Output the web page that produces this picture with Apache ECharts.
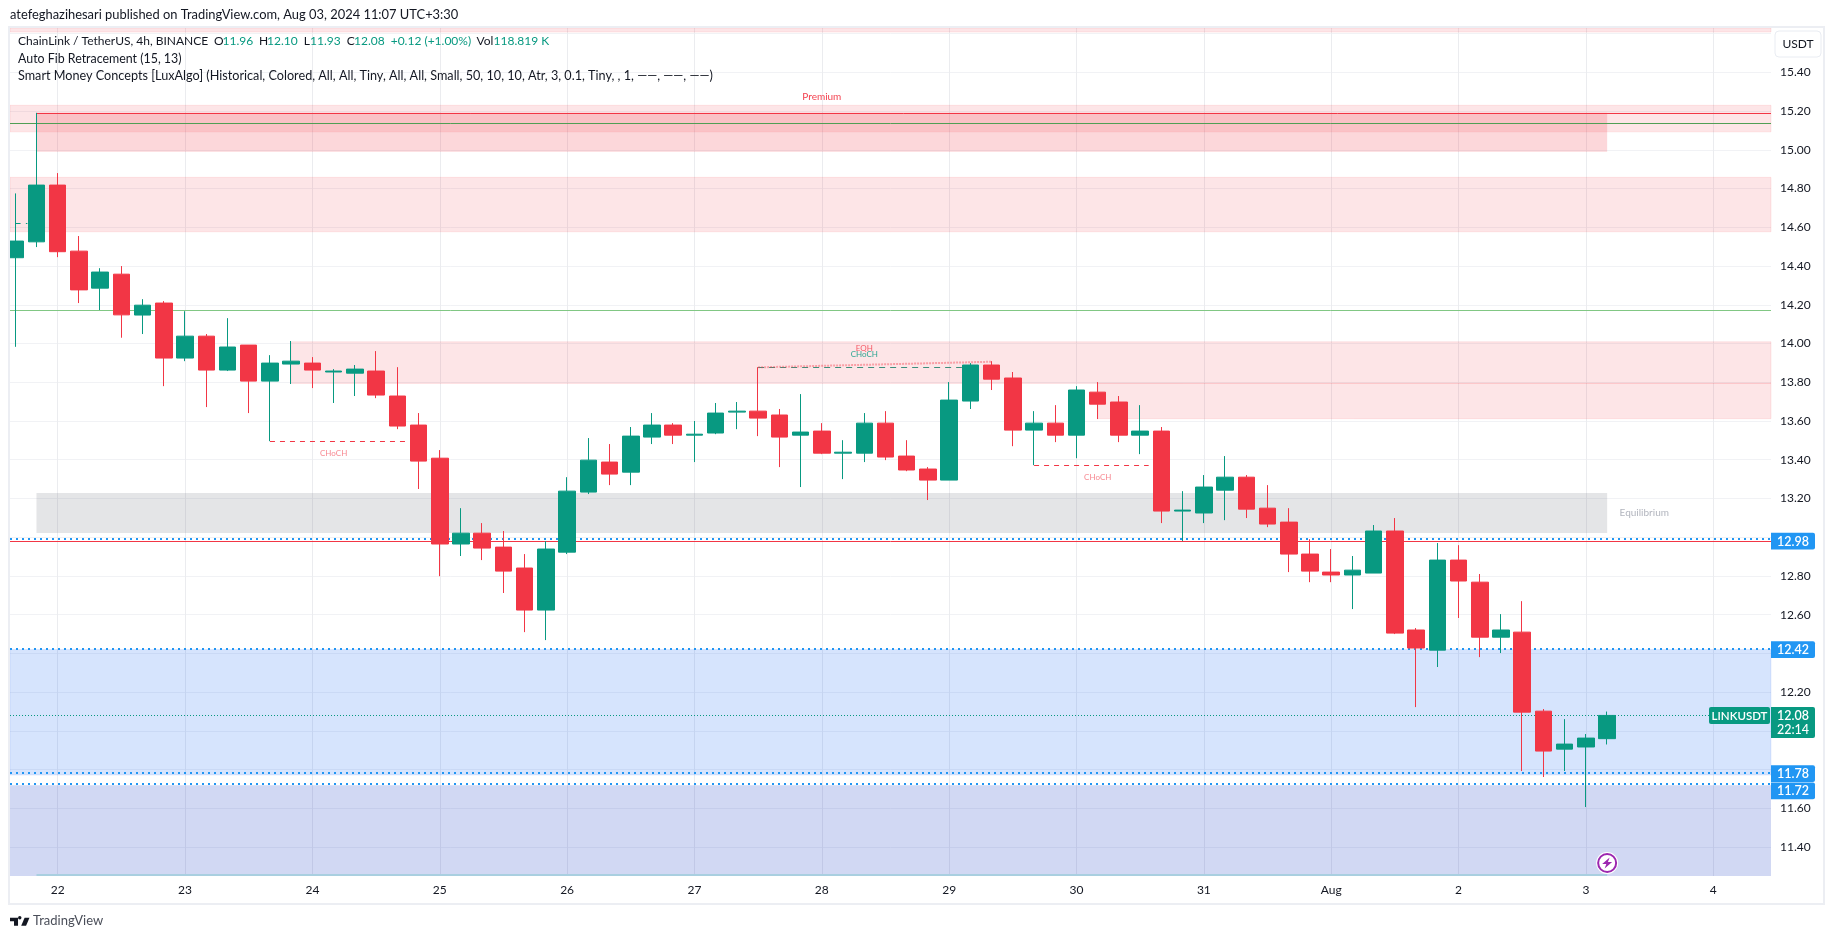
<!DOCTYPE html>
<html>
<head>
<meta charset="utf-8">
<title>LINKUSDT 4h</title>
<style>
    html, body { margin:0; padding:0; background:#fff; height:100%; overflow:hidden; }
    #chart { width:1835px; height:939px; }
</style>
<script src="https://cdn.jsdelivr.net/npm/echarts@6/dist/echarts.min.js"></script>
</head>
<body>
<div id="chart"></div>
<script>
const opens = [14.443,14.525,14.818,14.477,14.286,14.358,14.147,14.209,13.925,14.038,13.863,13.992,13.806,13.894,13.899,13.853,13.847,13.858,13.729,13.579,13.408,12.965,13.021,12.949,12.841,12.624,12.923,13.233,13.388,13.336,13.517,13.579,13.527,13.538,13.646,13.651,13.631,13.527,13.548,13.434,13.434,13.589,13.419,13.352,13.295,13.703,13.889,13.822,13.553,13.589,13.527,13.749,13.698,13.527,13.548,13.135,13.125,13.243,13.310,13.150,13.078,12.913,12.820,12.805,12.815,13.032,12.521,12.417,12.882,12.768,12.484,12.510,12.102,11.906,11.917,11.96]
const closes = [14.529,14.818,14.474,14.277,14.369,14.148,14.198,13.925,14.038,13.863,13.982,13.806,13.899,13.909,13.863,13.858,13.868,13.734,13.574,13.393,12.965,13.021,12.944,12.825,12.624,12.939,13.238,13.398,13.326,13.522,13.579,13.527,13.532,13.641,13.651,13.615,13.517,13.543,13.434,13.439,13.589,13.414,13.347,13.295,13.708,13.889,13.816,13.553,13.589,13.527,13.760,13.687,13.527,13.548,13.135,13.140,13.259,13.310,13.145,13.068,12.913,12.825,12.805,12.830,13.032,12.505,12.428,12.882,12.774,12.484,12.521,12.097,11.896,11.932,11.963,12.08]
const lows = [13.983,14.498,14.446,14.209,14.173,14.030,14.049,13.780,13.909,13.672,13.858,13.641,13.496,13.791,13.770,13.693,13.729,13.718,13.558,13.249,12.799,12.903,12.882,12.712,12.510,12.469,12.913,13.223,13.269,13.269,13.481,13.481,13.388,13.532,13.558,13.522,13.362,13.259,13.429,13.300,13.388,13.398,13.341,13.192,13.295,13.662,13.760,13.470,13.372,13.491,13.408,13.610,13.491,13.429,13.073,12.980,13.073,13.088,13.099,13.052,12.820,12.768,12.768,12.629,12.815,12.500,12.123,12.330,12.583,12.381,12.402,11.793,11.762,11.793,11.607,11.93]
const highs = [14.775,15.191,14.880,14.555,14.389,14.400,14.229,14.219,14.167,14.049,14.131,13.992,13.940,14.013,13.930,13.868,13.889,13.961,13.878,13.641,13.450,13.150,13.073,13.032,12.913,12.980,13.310,13.512,13.481,13.569,13.641,13.589,13.600,13.693,13.698,13.878,13.662,13.739,13.589,13.501,13.641,13.651,13.501,13.362,13.801,13.899,13.909,13.853,13.651,13.682,13.780,13.801,13.729,13.682,13.569,13.238,13.321,13.419,13.321,13.269,13.150,12.990,12.939,12.903,13.063,13.099,12.531,12.970,12.959,12.810,12.603,12.670,12.113,12.061,11.984,12.10]

const dayTicks = [2,8,14,20,26,32,38,44,50,56,62,68,74,80]
const dayLabels = ['22','23','24','25','26','27','28','29','30','31','Aug','2','3','4']
const priceTicks = [15.6,15.4,15.2,15,14.8,14.6,14.4,14.2,14,13.8,13.6,13.4,13.2,13,12.8,12.6,12.4,12.2,12,11.8,11.6,11.4]
const priceLabels = [15.4,15.2,15,14.8,14.6,14.4,14.2,14,13.8,13.6,13.4,13.2,12.8,12.6,12.2,11.6,11.4]

const xMin = -0.248
const xMax = 82.72
const yMin = 11.251
const yMax = 15.629

// [x from, x to, top price, bottom price]
const fullBands = [[15.629,15.608],[15.23,15.093],[14.858,14.577]]
const supplyBands = [[13,14.009,13.794],[51,13.794,13.612]]
const premiumZone = [1,75,15.191,14.99]
const equilibriumZone = [1,75,13.228,13.022]
const blueZone = [12.42,11.772]
const blueZoneLow = [11.72,11.251]

const blueLevels = [12.99,12.425,11.785,11.725]
const tagLevels = [12.98,12.42,11.78,11.72]
const lastPrice = 12.08
const redLevel = 12.978
const topLine = [1,15.191]
const fibLine = 15.136
const fibLine2 = 14.171
const bottomLine = [1,75,11.256]
const chochLines = [[12,18.43,13.495],[48,53.4,13.372]]
const chochGreen = [35,44.6,13.876]
const eqhLine = [35,13.877,46,13.906]
const leftTicks = [[-0.25,0.57,14.755],[0,0.25,14.62],[0.5,0.57,14.62]]

const legendValues = ['11.96','12.10','11.93','12.08']

const RED = '#f23645'
const GREEN = '#089981'
const BLUE = '#2196f3'
const FONT = 'Lato'

function area(x0, x1, top, bottom, fill, border) {
    return [
        { coord:[x0,top], itemStyle:{ color:fill, borderColor:border, borderWidth:border ? 1 : 0 } },
        { coord:[x1,bottom] }
    ]
}

function line(x0, y0, x1, y1, color, width, type) {
    return [
        { coord:[x0,y0], lineStyle:{ color:color, width:width, type:type } },
        { coord:[x1,y1] }
    ]
}

function note(text, x, y, color, size) {
    return {
        coord:[x,y],
        symbol:'circle',
        symbolSize:0,
        label:{ show:true, position:'inside', formatter:text, color:color, fontSize:size, fontFamily:FONT }
    }
}

const pink = 'rgba(242,54,69,0.13)'
const pinkEdge = 'rgba(242,54,69,0.1)'

const zones = []
fullBands.forEach(b => zones.push(area(xMin, xMax, b[0], b[1], pink, pinkEdge)))
supplyBands.forEach(b => zones.push(area(b[0], xMax, b[1], b[2], pink, pinkEdge)))
zones.push(area(premiumZone[0], premiumZone[1], premiumZone[2], premiumZone[3], 'rgba(242,54,69,0.2)', null))
zones.push(area(equilibriumZone[0], equilibriumZone[1], equilibriumZone[2], equilibriumZone[3], 'rgba(120,123,134,0.2)', null))
zones.push(area(xMin, xMax, blueZone[0], blueZone[1], 'rgba(37,110,245,0.19)', 'rgba(37,110,245,0.1)'))
zones.push(area(xMin, xMax, blueZoneLow[0], blueZoneLow[1], 'rgba(25,60,195,0.2)', null))

const lines = []
lines.push(line(topLine[0], topLine[1], xMax, topLine[1], RED, 1, 'solid'))
lines.push(line(xMin, fibLine, xMax, fibLine, '#4f9f55', 1, 'solid'))
lines.push(line(xMin, fibLine2, xMax, fibLine2, '#81c784', 1, 'solid'))
lines.push(line(bottomLine[0], bottomLine[2], bottomLine[1], bottomLine[2], '#a9cfe0', 2, 'solid'))
blueLevels.forEach(v => lines.push(line(xMin, v, xMax, v, BLUE, 2, [2,4])))
lines.push(line(xMin, redLevel, xMax, redLevel, RED, 1, 'solid'))
lines.push(line(xMin, lastPrice, xMax, lastPrice, GREEN, 1, [1,2]))
chochLines.forEach(l => lines.push(line(l[0], l[2], l[1], l[2], RED, 1, [5,5])))
lines.push(line(chochGreen[0], chochGreen[2], chochGreen[1], chochGreen[2], '#3c8f7c', 1, [6,5]))
lines.push(line(eqhLine[0], eqhLine[1], eqhLine[2], eqhLine[3], 'rgba(242,54,69,0.4)', 2, [2,1]))
leftTicks.forEach(l => lines.push(line(l[0], l[2], l[1], l[2], GREEN, 1, 'solid')))

const notes = [
    note('Premium', 38, 15.274, 'rgba(242,54,69,0.95)', 10),
    note('Equilibrium', 76.75, 13.126, '#b2b5be', 10),
    note('CHoCH', 15, 13.435, 'rgba(242,54,69,0.6)', 8),
    note('CHoCH', 51, 13.31, 'rgba(242,54,69,0.6)', 8),
    note('EQH', 40, 13.975, 'rgba(242,54,69,0.8)', 8),
    note('CHoCH', 40, 13.945, 'rgba(8,153,129,0.85)', 8)
]

const chart = echarts.init(document.getElementById('chart'))

chart.setOption({
    animation:false,
    backgroundColor:'#fff',
    grid:{ left:10, right:64, top:28, bottom:63, containLabel:false },
    xAxis:{
        type:'value',
        min:xMin,
        max:xMax,
        axisLine:{ show:false },
        axisTick:{ show:false, customValues:dayTicks },
        splitLine:{ show:true, lineStyle:{ color:'#ebecef', width:1 } },
        axisLabel:{
            customValues:dayTicks,
            margin:8,
            color:'#131722',
            fontSize:12,
            fontFamily:FONT,
            formatter:v => dayLabels[dayTicks.indexOf(v)]
        }
    },
    yAxis:{
        type:'value',
        position:'right',
        min:yMin,
        max:yMax,
        scale:true,
        axisLine:{ show:false },
        axisTick:{ show:false, customValues:priceTicks },
        splitLine:{ show:true, lineStyle:{ color:'#f1f2f5', width:1 } },
        axisLabel:{
            customValues:priceLabels,
            margin:9,
            color:'#131722',
            fontSize:12,
            fontFamily:FONT,
            formatter:v => v.toFixed(2)
        }
    },
    series:[{
        type:'candlestick',
        barWidth:17,
        encode:{ x:0, y:[1,2,3,4] },
        itemStyle:{
            color:GREEN,
            color0:RED,
            borderColor:GREEN,
            borderColor0:RED,
            borderWidth:1
        },
        data:opens.map((o, i) => [i, o, closes[i], lows[i], highs[i]]),
        markArea:{ silent:true, z:0.5, label:{ show:false }, data:zones },
        markLine:{ silent:true, z:1, symbol:'none', label:{ show:false }, data:lines },
        markPoint:{ silent:true, z:6, data:notes }
    }]
})

function tag(x, y, w, h, fill, text, size, radius) {
    return {
        type:'group',
        z:20,
        children:[
            { type:'rect', z:20, shape:{ x:x, y:y, width:w, height:h, r:radius }, style:{ fill:fill } },
            { type:'text', z:21, style:{ x:x + w / 2, y:y + h / 2 + 0.5, text:text, fill:'#fff', align:'center', verticalAlign:'middle', font:'600 ' + size + 'px ' + FONT } }
        ]
    }
}

function label(text, x, y, color, size) {
    return { type:'text', z:20, style:{ x:x, y:y, text:text, fill:color || '#131722', verticalAlign:'middle', font:(size || 12) + 'px ' + FONT } }
}

const py = v => chart.convertToPixel({ yAxisIndex:0 }, v)
const px = v => chart.convertToPixel({ xAxisIndex:0 }, v)

const tagShift = [0,0,0,5.7]
const boltX = px(75)
const logoScale = 19.5 / 34
const graphics = [
    { type:'rect', z:18, shape:{ x:0, y:28, width:9, height:848 }, style:{ fill:'#fff' } },
    { type:'rect', z:19, shape:{ x:9, y:27, width:1815, height:877 }, style:{ fill:'none', stroke:'#eceef3', lineWidth:2 } },
    { type:'rect', z:20, shape:{ x:1775, y:31, width:46, height:26, r:4 }, style:{ fill:'#fff', stroke:'#e9ecf2', lineWidth:1 } },
    { type:'text', z:21, style:{ x:1798, y:44.5, text:'USDT', fill:'#131722', align:'center', verticalAlign:'middle', font:'12px ' + FONT } },
    label('atefeghazihesari published on TradingView.com, Aug 03, 2024 11:07 UTC+3:30', 10, 15, '#131722', 12.9),
    label('ChainLink / TetherUS, 4h, BINANCE', 18, 41.5),
    label('O', 214, 41.5), label(legendValues[0], 222.5, 41.5, GREEN),
    label('H', 259, 41.5), label(legendValues[1], 267, 41.5, GREEN),
    label('L', 303.7, 41.5), label(legendValues[2], 310, 41.5, GREEN),
    label('C', 346.8, 41.5), label(legendValues[3], 354, 41.5, GREEN),
    label('+0.12 (+1.00%)', 390.7, 41.5, GREEN),
    label('Vol', 476.5, 41.5), label('118.819 K', 493.5, 41.5, GREEN),
    label('Auto Fib Retracement (15, 13)', 18, 58.5, '#131722', 12.4),
    label('Smart Money Concepts [LuxAlgo] (Historical, Colored, All, All, Tiny, All, All, Small, 50, 10, 10, Atr, 3, 0.1, Tiny, , 1, \u2014\u2014, \u2014\u2014, \u2014\u2014)', 18, 76, '#131722', 12.65),
    {
        type:'group',
        z:20,
        x:10,
        y:916 - 3 * logoScale,
        scaleX:logoScale,
        scaleY:logoScale,
        children:[
            { type:'polygon', z:20, shape:{ points:[[0,6],[14,6],[14,20],[7,20],[7,12],[0,12]] }, style:{ fill:'#131722' } },
            { type:'polygon', z:20, shape:{ points:[[19.5,20],[25.5,6],[34,6],[28,20]] }, style:{ fill:'#131722' } },
            { type:'circle', z:20, shape:{ cx:17, cy:6, r:3 }, style:{ fill:'#131722' } }
        ]
    },
    label('TradingView', 33, 921, '#4a4e59', 13),
    { type:'circle', z:20, shape:{ cx:boltX, cy:863, r:11 }, style:{ fill:'#fff' } },
    { type:'circle', z:21, shape:{ cx:boltX, cy:863, r:9 }, style:{ fill:'#fff', stroke:'#9c27b0', lineWidth:2 } },
    { type:'polygon', z:22, shape:{ points:[[boltX + 2.5,857.5],[boltX - 5,864],[boltX - 0.8,864],[boltX - 2.5,868.5],[boltX + 5,862],[boltX + 0.8,862]] }, style:{ fill:'#9c27b0' } },
    { type:'rect', z:20, shape:{ x:1771, y:py(lastPrice) - 8.5, width:44, height:31, r:[0,2,2,0] }, style:{ fill:GREEN } },
    { type:'text', z:21, style:{ x:1793, y:py(lastPrice) + 0.5, text:lastPrice.toFixed(2), fill:'#fff', align:'center', verticalAlign:'middle', font:'600 12.5px ' + FONT } },
    { type:'text', z:21, style:{ x:1793, y:py(lastPrice) + 15, text:'22:14', fill:'#fff', align:'center', verticalAlign:'middle', font:'500 12.5px ' + FONT } },
    tag(1709, py(lastPrice) - 8.5, 61, 17, GREEN, 'LINKUSDT', 11.5, 2)
]
tagLevels.forEach((v, i) => {
    graphics.push(tag(1771, py(v) - 8.4 + tagShift[i], 44, 16.8, BLUE, v.toFixed(2), 12.5, [0,2,2,0]))
})

chart.setOption({ graphic:{ elements:graphics } })
</script>
</body>
</html>
